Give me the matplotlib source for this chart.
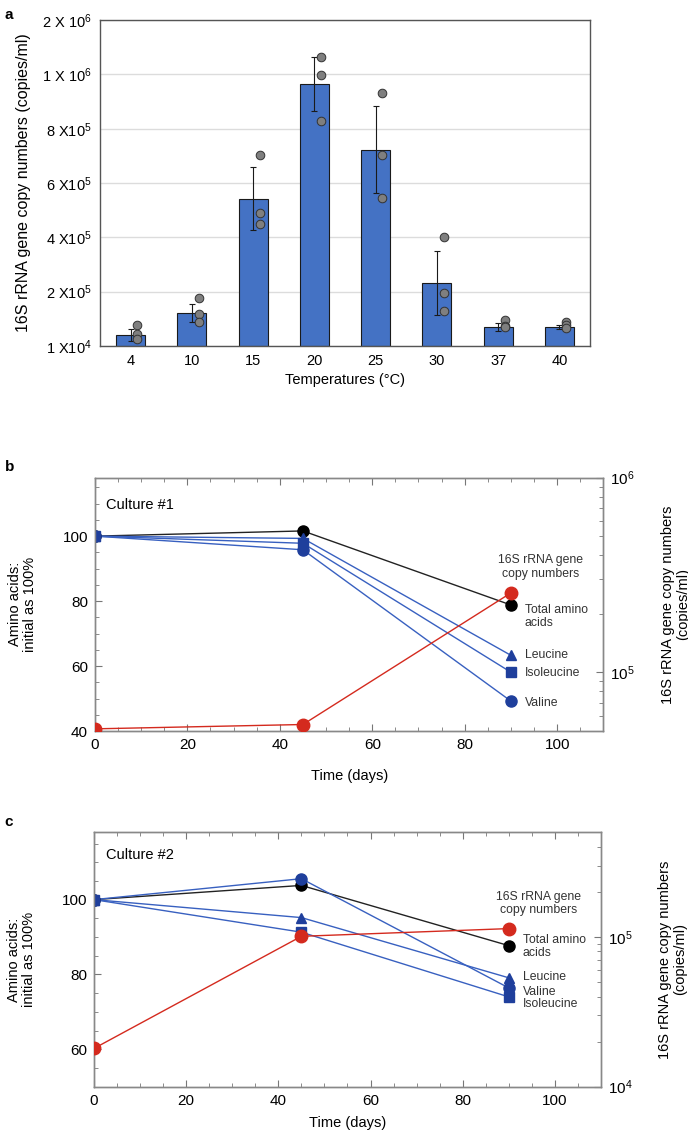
import matplotlib
matplotlib.use("Agg")
import matplotlib.pyplot as plt
from matplotlib.ticker import MultipleLocator, LogLocator, NullFormatter, FixedLocator
import numpy as np

plt.rcParams['font.family'] = ['Liberation Sans', 'DejaVu Sans']
plt.rcParams['mathtext.default'] = 'regular'

# ---------------- Panel a data ----------------
temps = ['4', '10', '15', '20', '25', '30', '37', '40']
bar_means = [40000, 121000, 543000, 965000, 723000, 231000, 70000, 70000]
bar_err = [23000, 34000, 115000, 98000, 160000, 118000, 15000, 7000]
points = [
    [78000, 43000, 24500],
    [175500, 118500, 90000],
    [703000, 489000, 450000],
    [1065000, 996000, 828000],
    [930000, 702000, 545000],
    [401000, 195000, 128000],
    [96500, 75000, 69500],
    [86700, 75700, 67000],
]
a_yticks = [0, 2e5, 4e5, 6e5, 8e5, 1e6, 1.2e6]
a_yticklabels = ['1 X10$^4$', '2 X10$^5$', '4 X10$^5$', '6 X10$^5$', '8 X10$^5$',
                 '1 X 10$^6$', '2 X 10$^6$']

# ---------------- Panel b data (Culture #1) ----------------
days = [0, 45, 90]
b_total = [100, 101.6, 78.8]
b_leu = [100, 99.3, 63.3]
b_ile = [100, 97.8, 58.1]
b_val = [100, 95.8, 49.2]
b_16s = [51300, 54000, 256000]

# ---------------- Panel c data (Culture #2) ----------------
c_total = [100, 103.8, 87.7]
c_leu = [100, 95.2, 79.1]
c_ile = [100, 91.3, 74.0]
c_val = [100, 105.6, 76.4]
c_16s = [18000, 101000, 113700]

fig = plt.figure(figsize=(6.88, 11.33), dpi=100)

# ================= Panel a =================
axa = fig.add_axes([0.1453, 0.6946, 0.8576 - 0.1453, 0.9823 - 0.6946])
x = np.arange(len(temps))
axa.set_axisbelow(True)
axa.yaxis.grid(True, color='#dcdcdc', lw=1.0)
axa.bar(x, bar_means, width=0.47, color='#4472C4', edgecolor='#1a1a1a', lw=0.8, zorder=2)
axa.errorbar(x, bar_means, yerr=bar_err, fmt='none', ecolor='#1a1a1a', elinewidth=0.8,
             capsize=2.2, capthick=0.8, zorder=3)
for i, pts in enumerate(points):
    axa.plot([x[i] + 0.11] * len(pts), pts, 'o', ms=6.2, mfc='#7f7f7f', mec='#333333',
             mew=0.7, zorder=4, ls='none')
axa.set_xlim(-0.5, len(temps) - 0.5)
axa.set_ylim(0, 1.2e6)
axa.set_yticks(a_yticks)
axa.set_yticklabels(a_yticklabels, fontsize=10.5)
axa.set_xticks(x)
axa.set_xticklabels(temps, fontsize=10.5)
axa.tick_params(axis='both', length=0, pad=6)
for s in axa.spines.values():
    s.set_color('#555555')
    s.set_linewidth(1.0)
axa.set_xlabel('Temperatures (°C)', fontsize=10.5, labelpad=3)
axa.set_ylabel('16S rRNA gene copy numbers (copies/ml)', fontsize=11.5)
axa.yaxis.set_label_coords(-0.14, 0.5)
fig.text(0.007, 0.993, 'a', fontsize=11, fontweight='bold', va='top')

BLUE_L = '#3860c0'
BLUE_M = '#1f3f9c'
RED = '#d42a1e'


def style_time_axes(ax, axr, xlabelpad):
    ax.set_xlim(0, 110)
    ax.xaxis.set_major_locator(MultipleLocator(20))
    ax.xaxis.set_minor_locator(MultipleLocator(5))
    ax.yaxis.set_minor_locator(MultipleLocator(5))
    ax.tick_params(axis='both', which='both', direction='in', top=True, labelsize=11,
                   color='#777777')
    ax.tick_params(axis='both', which='major', length=5, pad=5)
    ax.tick_params(axis='both', which='minor', length=3)
    ax.tick_params(axis='y', which='both', right=False)
    for s in ax.spines.values():
        s.set_color('#888888')
        s.set_linewidth(1.0)
    for s in axr.spines.values():
        s.set_color('#888888')
        s.set_linewidth(1.0)
    axr.tick_params(axis='y', which='both', direction='in', labelsize=11, color='#777777')
    axr.tick_params(axis='y', which='major', length=5, pad=5)
    axr.tick_params(axis='y', which='minor', length=3)
    axr.yaxis.set_minor_formatter(NullFormatter())
    ax.set_xlabel('Time (days)', fontsize=10.5, labelpad=xlabelpad)
    ax.set_ylabel('Amino acids:\ninitial as 100%', fontsize=10.5, linespacing=1.1)
    ax.yaxis.set_label_coords(-0.114, 0.5)
    axr.set_ylabel('16S rRNA gene copy numbers\n(copies/ml)', fontsize=10.5,
                   linespacing=1.1)
    axr.yaxis.set_label_coords(1.113, 0.5)


def draw_series(ax, axr, total, leu, ile, val, s16):
    ax.plot(days, total, '-', color='#222222', lw=1.0, zorder=3)
    ax.plot(days, total, 'o', color='black', ms=8, zorder=5, ls='none')
    ax.plot(days, leu, '-', color=BLUE_L, lw=1.0, zorder=3)
    ax.plot(days, leu, '^', color=BLUE_M, ms=7.5, zorder=5, ls='none')
    ax.plot(days, ile, '-', color=BLUE_L, lw=1.0, zorder=3)
    ax.plot(days, ile, 's', color=BLUE_M, ms=7, zorder=5, ls='none')
    ax.plot(days, val, '-', color=BLUE_L, lw=1.0, zorder=3)
    ax.plot(days, val, 'o', color=BLUE_M, ms=8, zorder=5, ls='none')
    axr.plot(days, s16, '-', color=RED, lw=1.0, zorder=3)
    axr.plot(days, s16, 'o', color=RED, ms=9, zorder=5, ls='none')


ANN = 8.8

# ================= Panel b =================
axb = fig.add_axes([0.138, 0.3548, 0.877 - 0.138, 0.5784 - 0.3548])
axbr = axb.twinx()
axbr.set_yscale('log')
axb.set_ylim(40, 118)
axbr.set_ylim(5e4, 1e6)
axbr.yaxis.set_major_locator(FixedLocator([1e5, 1e6]))
axbr.set_yticklabels(['$10^5$', '$10^6$'])
axbr.yaxis.set_minor_locator(LogLocator(base=10, subs=np.arange(2, 10)))
draw_series(axb, axbr, b_total, b_leu, b_ile, b_val, b_16s)
style_time_axes(axb, axbr, 12)
axb.yaxis.set_major_locator(FixedLocator([40, 60, 80, 100]))
axb.text(2.5, 109.5, 'Culture #1', fontsize=10.5, va='center', ha='left')
axb.text(96.5, 90.5, '16S rRNA gene\ncopy numbers', fontsize=ANN, ha='center', va='center',
         color='#333333', linespacing=1.15)
axb.text(93, 75.3, 'Total amino\nacids', fontsize=ANN, ha='left', va='center',
         color='#333333', linespacing=1.15)
axb.text(93, 63.4, 'Leucine', fontsize=ANN, ha='left', va='center', color='#333333')
axb.text(93, 57.8, 'Isoleucine', fontsize=ANN, ha='left', va='center', color='#333333')
axb.text(93, 48.7, 'Valine', fontsize=ANN, ha='left', va='center', color='#333333')
fig.text(0.007, 0.588, 'b', fontsize=11, fontweight='bold', va='center')

# ================= Panel c =================
axc = fig.add_axes([0.1366, 0.0409, 0.8735 - 0.1366, 0.2654 - 0.0409])
axcr = axc.twinx()
axcr.set_yscale('log')
axc.set_ylim(50, 118)
axcr.set_ylim(1e4, 5e5)
axcr.yaxis.set_major_locator(FixedLocator([1e4, 1e5]))
axcr.set_yticklabels(['$10^4$', '$10^5$'])
axcr.yaxis.set_minor_locator(LogLocator(base=10, subs=np.arange(2, 10)))
draw_series(axc, axcr, c_total, c_leu, c_ile, c_val, c_16s)
style_time_axes(axc, axcr, 6)
axc.yaxis.set_major_locator(FixedLocator([60, 80, 100]))
axc.text(2.5, 111.8, 'Culture #2', fontsize=10.5, va='center', ha='left')
axc.text(96.5, 98.9, '16S rRNA gene\ncopy numbers', fontsize=ANN, ha='center', va='center',
         color='#333333', linespacing=1.15)
axc.text(93, 87.4, 'Total amino\nacids', fontsize=ANN, ha='left', va='center',
         color='#333333', linespacing=1.15)
axc.text(93, 79.4, 'Leucine', fontsize=ANN, ha='left', va='center', color='#333333')
axc.text(93, 75.3, 'Valine', fontsize=ANN, ha='left', va='center', color='#333333')
axc.text(93, 72.0, 'Isoleucine', fontsize=ANN, ha='left', va='center', color='#333333')
fig.text(0.007, 0.2745, 'c', fontsize=11, fontweight='bold', va='center')

fig.savefig('out.png', dpi=100)
